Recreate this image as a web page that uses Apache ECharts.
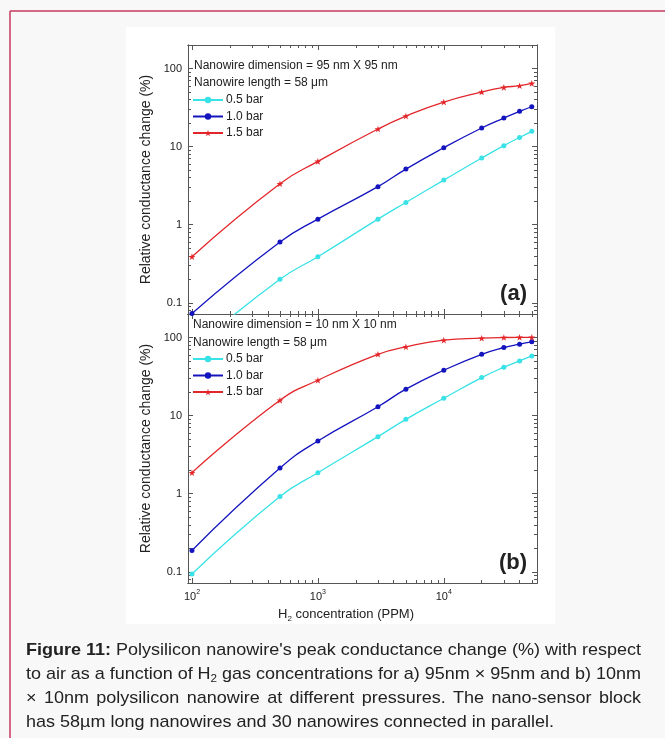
<!DOCTYPE html>
<html>
<head>
<meta charset="utf-8">
<script src="https://cdn.jsdelivr.net/npm/echarts@6/dist/echarts.min.js"></script>
<style>
  html, body { margin: 0; padding: 0; background: #f9f8f9; }
  #chart { width: 665px; height: 738px; }
</style>
</head>
<body>
<div id="chart"></div>
<script>
// H2 concentration (ppm)
var concentration = [100, 500, 1000, 3000, 5000, 10000, 20000, 30000, 40000, 50000];
var pressures = ['0.5 bar', '1.0 bar', '1.5 bar'];

// (a) nanowire 95 nm x 95 nm, relative conductance change (%)
var wideLow  = [0.025, 0.2, 0.39, 1.18, 1.93, 3.73, 7.14, 10.3, 13.1, 15.7];
var wideMid  = [0.073, 0.6, 1.18, 3.07, 5.16, 9.68, 17.3, 23.2, 28.3, 32.4];
var wideHigh = [0.39, 3.35, 6.47, 16.8, 24.6, 37.2, 50, 57.3, 60.2, 64.5];

// (b) nanowire 10 nm x 10 nm
var thinLow  = [0.094, 0.92, 1.86, 5.38, 8.97, 16.7, 30.7, 41.7, 50.2, 58.2];
var thinMid  = [0.188, 2.13, 4.73, 13, 21.8, 38.1, 61, 74.5, 82.2, 88];
var thinHigh = [1.86, 15.7, 28.4, 61, 75.9, 92.4, 98, 100, 100.5, 100.5];

// ticks
var xMajor = [100, 1000, 10000];
var xMinor = [200, 300, 400, 500, 600, 700, 800, 900, 2000, 3000, 4000, 5000, 6000, 7000, 8000, 9000, 20000, 30000, 40000, 50000];
var yMajor = [0.1, 1, 10, 100];
var yMinor = [0.08, 0.09, 0.2, 0.3, 0.4, 0.5, 0.6, 0.7, 0.8, 0.9, 2, 3, 4, 5, 6, 7, 8, 9, 20, 30, 40, 50, 60, 70, 80, 90];

var FONT = '"Liberation Sans", Arial, sans-serif';
var colors = ['#38e2e6', '#1414bf', '#e3262a'];
var star = 'path://M50,0 L61.8,35.5 L99,35.5 L69,57.5 L80.5,93 L50,71 L19.5,93 L31,57.5 L1,35.5 L38.2,35.5 Z';

var chart = echarts.init(document.getElementById('chart'));

function axis(kind, g, pos, ticks, len, label) {
  var a = {
    type: 'log', logBase: 10, gridIndex: g, position: pos,
    min: kind === 'x' ? 93 : 0.072,
    max: kind === 'x' ? 55000 : 200,
    axisLine: { show: true, onZero: false, lineStyle: { color: '#555', width: 1 } },
    axisTick: { show: true, inside: true, length: len, customValues: ticks, lineStyle: { color: '#555', width: 1 } },
    axisLabel: { show: false },
    splitLine: { show: false }
  };
  if (label) a.axisLabel = label;
  return a;
}

var xLabel = {
  show: true, customValues: xMajor, margin: 6, color: '#222', fontFamily: FONT, fontSize: 11,
  formatter: function (v) { return '{b|10}{s|' + Math.round(Math.log(v) / Math.LN10) + '}'; },
  rich: {
    b: { fontSize: 11, fontFamily: FONT, color: '#222', lineHeight: 16 },
    s: { fontSize: 7, fontFamily: FONT, color: '#222', lineHeight: 8, verticalAlign: 'top' }
  }
};
var yLabel = {
  show: true, customValues: yMajor, margin: 6, color: '#222', fontFamily: FONT, fontSize: 11,
  formatter: function (v) { return String(v); }
};

var xAxes = [], yAxes = [];
[0, 1].forEach(function (g) {
  xAxes.push(axis('x', g, 'bottom', xMajor, 5, g === 1 ? xLabel : null));
  xAxes.push(axis('x', g, 'bottom', xMinor, 3));
  xAxes.push(axis('x', g, 'top', xMajor, 5));
  xAxes.push(axis('x', g, 'top', xMinor, 3));
  var yl = axis('y', g, 'left', yMajor, 5, yLabel);
  yl.name = 'Relative conductance change (%)';
  yl.nameLocation = 'middle';
  yl.nameGap = 35;
  yl.nameTextStyle = { fontSize: 14, fontFamily: FONT, color: '#222' };
  yAxes.push(yl);
  yAxes.push(axis('y', g, 'left', yMinor, 3));
  yAxes.push(axis('y', g, 'right', yMajor, 5));
  yAxes.push(axis('y', g, 'right', yMinor, 3));
});

function line(name, g, values, color, symbol, size) {
  return {
    type: 'line', name: name, xAxisIndex: 4 * g, yAxisIndex: 4 * g,
    data: concentration.map(function (c, i) { return [c, values[i]]; }),
    smooth: 0.5, clip: true,
    symbol: symbol, symbolSize: size, symbolKeepAspect: true,
    lineStyle: { color: color, width: 1.3 },
    itemStyle: { color: color }
  };
}

var series = [
  line(pressures[0], 0, wideLow, colors[0], 'circle', 5),
  line(pressures[1], 0, wideMid, colors[1], 'circle', 5),
  line(pressures[2], 0, wideHigh, colors[2], star, 7),
  line(pressures[0], 1, thinLow, colors[0], 'circle', 5),
  line(pressures[1], 1, thinMid, colors[1], 'circle', 5),
  line(pressures[2], 1, thinHigh, colors[2], star, 7)
];

function legend(top) {
  return {
    orient: 'vertical', left: 192, top: top, padding: 0,
    itemWidth: 30, itemHeight: 8, itemGap: 4.5,
    data: pressures,
    textStyle: { fontSize: 12, fontFamily: FONT, color: '#222', lineHeight: 12, padding: [0, 0, 0, -2] }
  };
}

function txt(x, y, text, size, extra) {
  var st = { text: text, x: 0, y: 0, fontSize: size, fontFamily: FONT, fill: '#222',
             align: 'left', verticalAlign: 'middle', textAlign: 'left', textVerticalAlign: 'middle' };
  if (extra) for (var k in extra) st[k] = extra[k];
  return { type: 'text', x: x, y: y, style: st, z: 10 };
}

// caption: justified word by word
var cv = document.createElement('canvas').getContext('2d');
function measure(t, size, bold) { cv.font = (bold ? 'bold ' : '') + size + 'px ' + FONT; return cv.measureText(t).width; }
var capSize = 17, subSize = 11;
var capLines = [
  'Figure 11: Polysilicon nanowire\'s peak conductance change (%) with respect',
  'to air as a function of H_2 gas concentrations for a) 95nm \u00d7 95nm and b) 10nm',
  '\u00d7 10nm polysilicon nanowire at different pressures. The nano-sensor block',
  'has 58\u00b5m long nanowires and 30 nanowires connected in parallel.'
];
var capY = [650, 674, 698, 722];
var capLeft = 26, capRight = 641, lastWidth = 546;
var capRich = {
  bold: { fontSize: capSize, fontWeight: 'bold', fontFamily: FONT, fill: '#222', color: '#222', lineHeight: 20 },
  n: { fontSize: capSize, fontFamily: FONT, fill: '#222', color: '#222', lineHeight: 20 },
  sub: { fontSize: subSize, fontFamily: FONT, fill: '#222', color: '#222', lineHeight: 10, verticalAlign: 'bottom' }
};
var firstNatural = measure('Figure 11:', capSize, true) + measure(capLines[0].slice(10), capSize, false);
var squeeze = Math.min((capRight - capLeft) / firstNatural, lastWidth / measure(capLines[3], capSize, false));
var captionEls = [];
capLines.forEach(function (ln, li) {
  var words = ln.split(' ');
  var items = words.map(function (w, wi) {
    if (w === 'H_2') {
      return { str: '{n|H}{sub|2}', w: (measure('H', capSize) + measure('2', subSize)) * squeeze };
    }
    var bold = li === 0 && wi < 2;
    return { str: '{' + (bold ? 'bold' : 'n') + '|' + w + '}', w: measure(w, capSize, bold) * squeeze };
  });
  var total = items.reduce(function (s, it) { return s + it.w; }, 0);
  var gap = li < 3 ? (capRight - capLeft - total) / (items.length - 1) : measure(' ', capSize) * squeeze;
  var x = capLeft;
  items.forEach(function (it) {
    var el = txt(x, capY[li], it.str, capSize, { rich: capRich });
    el.scaleX = squeeze;
    captionEls.push(el);
    x += it.w + gap;
  });
});

var graphics = [
  { type: 'rect', shape: { x: 126, y: 27, width: 429, height: 597 }, style: { fill: '#ffffff' }, z: -10 },
  { type: 'line', shape: { x1: 10, y1: 11, x2: 665, y2: 11 }, style: { stroke: '#c43a5e', lineWidth: 1.5 }, z: 5 },
  { type: 'line', shape: { x1: 10, y1: 11, x2: 10, y2: 738 }, style: { stroke: '#c43a5e', lineWidth: 1.5 }, z: 5 },
  txt(194, 66, 'Nanowire dimension = 95 nm X 95 nm', 12),
  txt(194, 83, 'Nanowire length = 58 \u03bcm', 12),
  txt(193, 325, 'Nanowire dimension = 10 nm X 10 nm', 12),
  txt(193, 343, 'Nanowire length = 58 \u03bcm', 12),
  txt(527, 294, '(a)', 22, { fontWeight: 'bold', align: 'right', textAlign: 'right' }),
  txt(527, 563, '(b)', 22, { fontWeight: 'bold', align: 'right', textAlign: 'right' }),
  txt(346, 614, '{b|H}{s|2}{b| concentration (PPM)}', 13, {
    align: 'center', textAlign: 'center',
    rich: {
      b: { fontSize: 13, fontFamily: FONT, fill: '#222', color: '#222', lineHeight: 18 },
      s: { fontSize: 8, fontFamily: FONT, fill: '#222', color: '#222', lineHeight: 8, verticalAlign: 'bottom' }
    }
  })
].concat(captionEls);

chart.setOption({
  animation: false,
  backgroundColor: '#f9f8f9',
  grid: [
    { left: 188, top: 45, width: 349, height: 269, outerBoundsMode: 'none' },
    { left: 188, top: 314, width: 349, height: 269, outerBoundsMode: 'none' }
  ],
  xAxis: xAxes,
  yAxis: yAxes,
  legend: [legend(94), legend(353)],
  series: series,
  graphic: { elements: graphics }
});
</script>
</body>
</html>
